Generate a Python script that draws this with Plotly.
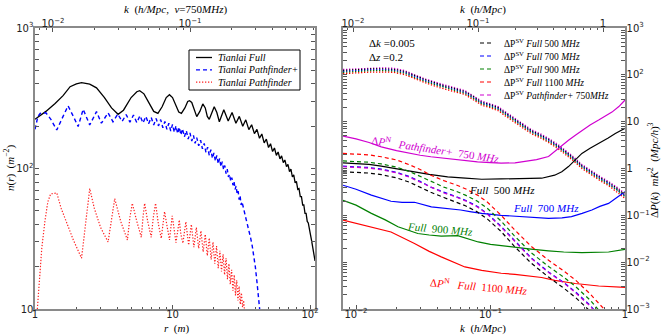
import plotly.graph_objects as go

# ---- left panel: baseline density n(r) ----
full_r = [1.0, 1.2, 1.4, 1.6, 1.8, 2.0, 2.18, 2.5, 2.8, 3.2, 3.6, 4.02, 4.4, 5.0, 5.5, 5.77, 6.2, 6.8, 7.3, 7.83,
          8.4, 9.0, 9.5, 10.0, 10.6, 11.1, 11.6, 12.3, 12.9, 13.3, 13.8, 14.4, 15.0, 15.8, 16.6, 17.3, 17.9, 18.5, 19.3, 20.1,
          21.0, 21.9, 23.6, 25.4, 27.1, 28.9, 30.6, 32.4, 34.1, 35.9, 37.6, 39.4, 41.1, 42.9, 44.6, 46.4, 48.1, 49.9, 51.6, 53.4,
          55.1, 56.9, 58.6, 60.4, 62.1, 63.9, 65.6, 67.4, 69.1, 70.9, 72.6, 74.4, 76.1, 77.9, 79.6, 81.4, 83.1, 84.9, 86.6, 88.4,
          90.1, 91.9, 93.6, 95.4, 97.1, 98.9, 100.6, 102.4, 104.0, 106.0, 108.7]
full_n = [224, 255, 290, 330, 382, 400, 408, 399, 375, 320, 270, 243, 260, 320, 352, 358, 340, 290, 255, 247,
          275, 320, 335, 320, 280, 252, 247, 270, 300, 304, 295, 260, 234, 255, 288, 270, 235, 224, 250, 275,
          250, 215, 262, 218, 250, 210, 235, 200, 222, 189, 205, 177, 190, 164, 176, 152, 162, 141, 150, 132,
          140, 124, 131, 117, 123, 110, 115, 103, 107, 95, 99, 87, 90, 79, 81, 71, 72, 63, 63, 55,
          55, 48, 48, 42, 41, 36, 34, 31, 28, 25, 22]

pfp_r = [1.0, 1.05, 1.09, 1.2, 1.3, 1.44, 1.6, 1.74, 1.9, 2.06, 2.24, 2.5, 2.8, 3.04, 3.4, 3.69, 4.0, 4.3, 4.6, 4.9,
         5.2, 5.5, 5.8, 6.1, 6.4, 6.7, 7.0, 7.3, 7.6, 7.9, 8.2, 8.5, 8.8, 9.1, 9.4, 9.7, 10.0, 10.3, 10.6, 10.9,
         11.2, 11.5, 11.8, 12.2, 12.6, 13.0, 13.4, 13.8, 14.2, 14.6, 15.0, 15.5, 16.0, 16.5, 17.0, 17.5, 18.0, 18.5, 19.0, 19.5,
         20.0, 20.5, 21.0, 21.5, 22.0, 22.5, 23.0, 23.5, 24.0, 24.5, 25.0, 25.5, 26.0, 26.5, 27.0, 27.5, 28.0, 28.5, 29.0, 29.5,
         30.0, 30.5, 31.0, 31.5, 32.0, 33.0, 34.0, 35.0, 36.0, 37.0, 38.0, 39.0, 40.0, 41.0, 42.0, 43.0]
pfp_n = [190, 235, 247, 249, 225, 188, 235, 279, 235, 199, 264, 204, 254, 210, 249, 215, 244, 216, 242, 214,
         240, 212, 238, 211, 235, 208, 231, 204, 227, 201, 223, 195, 216, 190, 210, 185, 206, 181, 201, 177,
         197, 173, 192, 168, 186, 162, 179, 157, 172, 151, 166, 145, 159, 138, 151, 130, 142, 124, 136, 118,
         129, 113, 124, 108, 118, 103, 112, 98, 105, 92, 99, 87, 91, 81, 86, 76, 81, 71, 75, 66,
         69, 60, 64, 55, 58, 50, 45, 40, 36, 32, 28, 24, 20, 16, 13, 10]

pf_r = [1.04, 1.08, 1.12, 1.18, 1.24, 1.3, 1.44, 1.55, 1.7, 1.9, 2.18, 2.35, 2.5, 2.7, 3.0, 3.4, 3.6, 3.8, 4.2, 4.7,
        4.9, 5.1, 5.5, 5.93, 6.1, 6.27, 6.6, 7.0, 7.25, 7.53, 7.9, 8.28, 8.75, 9.1, 9.5, 9.95, 10.3, 10.6, 11.2, 11.5,
        11.9, 12.5, 13.1, 13.7, 14.3, 14.9, 15.5, 16.1, 16.7, 17.3, 17.9, 18.5, 19.1, 19.7, 20.3, 20.9, 21.5, 22.1, 22.7, 23.3,
        23.9, 24.5, 25.1, 25.7, 26.3, 26.9, 27.5, 28.1, 28.7, 29.3, 29.9, 30.5, 31.1, 31.7, 32.3, 32.9, 33.3]
pf_n = [10, 18, 27, 42, 58, 66, 67, 52, 41, 31, 23, 45, 72, 52, 38, 30, 45, 61, 42, 31,
        45, 56.5, 42, 32.4, 45, 56.5, 42, 32.4, 45, 56.5, 40, 31.8, 49.3, 38, 31, 46, 36, 29.7, 43, 34,
        29.4, 41.8, 28.5, 40, 27.5, 38, 27, 36, 25.5, 34, 24, 32, 22.5, 30, 21, 28, 19.5, 26, 18.5, 24.5,
        17.5, 23, 16.3, 21, 15, 19, 13.5, 17.5, 12.5, 16, 11.5, 14.5, 10.8, 13, 10.3, 11.5, 10]

# ---- right panel: sample variance (dotted, upper band) ----
k_sv = [0.008, 0.01, 0.0125, 0.0155, 0.019, 0.023, 0.027, 0.033, 0.043, 0.052, 0.0645, 0.075, 0.086, 0.1, 0.114,
        0.13, 0.152, 0.175, 0.202, 0.235, 0.27, 0.32, 0.4, 0.48, 0.567, 0.66, 0.755, 0.87, 1.0]
sv_mag = [130, 135, 140, 141, 138, 123, 101, 81, 64, 55, 46, 35, 27.5, 24, 21, 16, 11.9, 9.0, 6.7, 5.5, 4.4, 3.2, 1.93, 1.21, 0.87, 0.66, 0.53, 0.4, 0.29]
sv_500 = [124, 129, 133, 134, 131, 118, 97, 78, 61, 52, 44, 34, 26, 23, 20, 15.2, 11.3, 8.6, 6.4, 5.2, 4.2, 3.0, 1.84, 1.15, 0.83, 0.63, 0.5, 0.38, 0.27]
sv_700 = [118, 123, 127, 128, 125, 112, 92, 74, 58, 50, 42, 32, 25, 22, 19, 14.5, 10.8, 8.2, 6.1, 5.0, 4.0, 2.9, 1.75, 1.1, 0.79, 0.6, 0.48, 0.36, 0.26]
sv_900 = [113, 118, 122, 123, 120, 108, 88, 71, 56, 48, 40, 31, 24, 21, 18.2, 13.9, 10.4, 7.9, 5.9, 4.8, 3.8, 2.8, 1.68, 1.06, 0.76, 0.58, 0.46, 0.35, 0.25]
sv_1100 = [106, 111, 114, 115, 113, 101, 83, 67, 52, 45, 38, 29, 22.5, 19.8, 17.1, 13, 9.7, 7.4, 5.5, 4.5, 3.6, 2.6, 1.58, 0.99, 0.71, 0.54, 0.43, 0.32, 0.23]

# ---- right panel: sample variance (dashed, lower set) ----
k_d = [0.008, 0.01, 0.0125, 0.0154, 0.02, 0.025, 0.03, 0.036, 0.045, 0.055, 0.065, 0.08, 0.095, 0.12, 0.15,
       0.2, 0.27, 0.35, 0.43, 0.55, 0.67, 0.75]
d_500 = [0.85, 0.84, 0.8, 0.74, 0.63, 0.51, 0.4, 0.31, 0.24, 0.195, 0.16, 0.118, 0.083, 0.045, 0.022, 0.0096, 0.0048, 0.0028, 0.00175, 0.0009, 0.00047, 0.00034]
d_700 = [1.12, 1.1, 1.05, 0.97, 0.83, 0.67, 0.53, 0.4, 0.31, 0.255, 0.21, 0.155, 0.108, 0.058, 0.029, 0.0125, 0.0062, 0.0037, 0.0023, 0.0012, 0.00062, 0.00045]
d_900 = [1.45, 1.42, 1.36, 1.25, 1.07, 0.86, 0.68, 0.52, 0.4, 0.33, 0.27, 0.2, 0.14, 0.075, 0.037, 0.016, 0.0081, 0.0048, 0.003, 0.00155, 0.0008, 0.0006]
d_1100 = [2.1, 2.05, 1.95, 1.78, 1.52, 1.2, 0.95, 0.72, 0.55, 0.45, 0.37, 0.27, 0.19, 0.1, 0.05, 0.022, 0.011, 0.0065, 0.0041, 0.0021, 0.0011, 0.0008]
d_pfp = [1.09, 1.07, 1.02, 0.94, 0.81, 0.65, 0.51, 0.39, 0.3, 0.248, 0.204, 0.15, 0.105, 0.056, 0.028, 0.0121, 0.006, 0.0036, 0.0022, 0.00116, 0.0006, 0.00044]

# ---- right panel: noise (solid) ----
n_pfp_k = [0.008, 0.01, 0.0125, 0.0154, 0.02, 0.025, 0.03, 0.036, 0.05, 0.065, 0.08, 0.1, 0.12, 0.152, 0.18, 0.22,
           0.27, 0.3, 0.34, 0.38, 0.43, 0.48, 0.55, 0.637, 0.72, 0.8, 0.9, 1.0]
n_pfp = [4.9, 4.3, 3.6, 2.9, 2.4, 2.1, 1.92, 1.78, 1.6, 1.45, 1.38, 1.33, 1.3, 1.32, 1.4, 1.55, 1.8, 2.3, 3.2, 4.0,
         5.2, 6.6, 8.5, 10.8, 13.5, 16, 21, 29]
n_500_k = [0.008, 0.01, 0.0125, 0.0154, 0.02, 0.0272, 0.035, 0.048, 0.065, 0.086, 0.12, 0.152, 0.2, 0.24, 0.3,
           0.339, 0.38, 0.426, 0.478, 0.55, 0.637, 0.75, 0.847, 1.0]
n_500 = [1.32, 1.28, 1.22, 1.12, 1.0, 0.85, 0.75, 0.665, 0.62, 0.59, 0.6, 0.6, 0.6, 0.62, 0.72, 0.85, 1.1, 1.5,
         2.1, 2.7, 3.4, 4.5, 5.6, 7.2]
n_700_k = [0.008, 0.01, 0.013, 0.0182, 0.022, 0.0272, 0.0363, 0.048, 0.06, 0.072, 0.086, 0.12, 0.152, 0.2, 0.27,
           0.34, 0.4, 0.48, 0.567, 0.65, 0.755, 0.87, 1.0]
n_700 = [0.44, 0.36, 0.27, 0.2, 0.19, 0.19, 0.152, 0.14, 0.13, 0.119, 0.11, 0.1, 0.096, 0.09, 0.086, 0.088, 0.094,
         0.11, 0.13, 0.155, 0.18, 0.24, 0.32]
n_900_k = [0.008, 0.01, 0.013, 0.0165, 0.0205, 0.025, 0.0288, 0.035, 0.043, 0.057, 0.07, 0.081, 0.1, 0.152, 0.2,
           0.27, 0.35, 0.478, 0.6, 0.755, 1.0]
n_900 = [0.21, 0.165, 0.11, 0.08, 0.057, 0.046, 0.041, 0.038, 0.036, 0.037, 0.031, 0.027, 0.024, 0.0206, 0.019,
         0.0175, 0.0165, 0.016, 0.0162, 0.0165, 0.0187]
n_1100_k = [0.008, 0.0115, 0.0182, 0.0272, 0.035, 0.043, 0.0645, 0.086, 0.12, 0.152, 0.2, 0.24, 0.3, 0.426, 0.637, 1.0]
n_1100 = [0.079, 0.062, 0.044, 0.025, 0.017, 0.013, 0.0079, 0.0067, 0.0058, 0.0055, 0.0049, 0.0047, 0.0041, 0.0035,
          0.0031, 0.0029]

MAG = '#d000d0'
serif = 'Liberation Serif'
W, H = 662, 336
DASH = '4px,3px'
DOT = '1.3px,1.7px'

fig = go.Figure()

# left panel
fig.add_scatter(x=full_r, y=full_n, mode='lines', line=dict(color='black', width=1.3), xaxis='x', yaxis='y')
fig.add_scatter(x=pfp_r, y=pfp_n, mode='lines', line=dict(color='blue', width=1.4, dash=DASH), xaxis='x', yaxis='y')
fig.add_scatter(x=pf_r, y=pf_n, mode='lines', line=dict(color='#ff2020', width=1.2, dash=DOT), xaxis='x', yaxis='y')
# empty traces so the top k axes get drawn
fig.add_scatter(x=[], y=[], xaxis='x2', yaxis='y')
fig.add_scatter(x=[], y=[], xaxis='x4', yaxis='y3')

# right panel, dotted band
for vals, col in [(sv_mag, MAG), (sv_500, 'black'), (sv_700, 'blue'), (sv_900, 'green'), (sv_1100, 'red')]:
    fig.add_scatter(x=k_sv, y=vals, mode='lines', line=dict(color=col, width=1.3, dash=DOT), xaxis='x3', yaxis='y3')

# right panel, solid noise curves
for kk, vals, col in [(n_pfp_k, n_pfp, MAG), (n_500_k, n_500, 'black'), (n_700_k, n_700, 'blue'),
                      (n_900_k, n_900, 'green'), (n_1100_k, n_1100, 'red')]:
    fig.add_scatter(x=kk, y=vals, mode='lines', line=dict(color=col, width=1.2), xaxis='x3', yaxis='y3')

# right panel, dashed
for vals, col in [(d_500, 'black'), (d_700, 'blue'), (d_900, 'green'), (d_1100, 'red'), (d_pfp, MAG)]:
    fig.add_scatter(x=k_d, y=vals, mode='lines', line=dict(color=col, width=1.2, dash=DASH), xaxis='x3', yaxis='y3')

tickfont = dict(family='DejaVu Sans', size=8, color='#222')
common = dict(type='log', showline=True, linecolor='#8a8a8a', linewidth=2, ticks='inside', ticklen=4,
              tickcolor='#555', tickwidth=1, dtick=1, exponentformat='power', showexponent='all',
              showgrid=False, zeroline=False, tickfont=tickfont, automargin=False, ticklabelstandoff=-2,
              minor=dict(ticks='inside', ticklen=2, dtick='D1', tickcolor='#555', showgrid=False))

xl = [35 / W, 315 / W]
xr = [343 / W, 625 / W]
yd = [1 - 309 / H, 1 - 28 / H]

fig.update_layout(
    width=W, height=H, margin=dict(l=0, r=0, t=0, b=0, autoexpand=False), showlegend=False,
    plot_bgcolor='white', paper_bgcolor='white',
    xaxis=dict(common, domain=xl, anchor='y', range=[0, 2.036], ticklabelstandoff=-5),
    xaxis2=dict(common, overlaying='x', side='top', anchor='y', range=[-2.131, -0.088], ticklabelstandoff=-5),
    yaxis=dict(common, domain=yd, anchor='x', range=[1, 3], mirror='allticks'),
    xaxis3=dict(common, domain=xr, anchor='y3', range=[-2.097, 0], ticklabelstandoff=-5),
    xaxis4=dict(common, overlaying='x3', side='top', anchor='y3', range=[-2.08, 0.176], ticklabelstandoff=-5),
    yaxis3=dict(common, domain=yd, anchor='x3', side='right', range=[-3, 3], mirror='allticks'),
)


def note(txt, px_, py_, col='black', size=11, ang=0, anc='center'):
    fig.add_annotation(text=txt, x=px_ / W, y=1 - py_ / H, xref='paper', yref='paper', showarrow=False,
                       textangle=ang, xanchor=anc, yanchor='middle',
                       font=dict(family=serif, size=size, color=col))


# axis titles
note('<i>r</i>  (<i>m</i>)', 176, 328.5)
note('<i>k</i>  (<i>h/Mpc</i>,  <i>ν</i>=750<i>MHz</i>)', 175, 9)
note('<i>n</i>(<i>r</i>)  (<i>m</i><sup>−2</sup>)', 9, 168, ang=-90)
note('<i>k</i>  (<i>h/Mpc</i>)', 483, 328.5)
note('<i>k</i>  (<i>h/Mpc</i>)', 483, 9)
note('Δ<i>P</i>(<i>k</i>)  <i>mK</i><sup>2</sup>  (<i>Mpc/h</i>)<sup>3</sup>', 653, 170, ang=-90)

# left legend (box, samples, labels)
fig.add_shape(type='rect', xref='paper', yref='paper', x0=189 / W, x1=300 / W, y0=1 - 90 / H, y1=1 - 50 / H,
              line=dict(color='black', width=1), fillcolor='white', layer='above')
for i, (lbl, col, dash) in enumerate([('Tianlai Full', 'black', 'solid'),
                                      ('Tianlai Pathfinder+', 'blue', DASH),
                                      ('Tianlai Pathfinder', '#ff2020', DOT)]):
    yy = 1 - (57.5 + 12.3 * i) / H
    fig.add_shape(type='line', xref='paper', yref='paper', x0=196 / W, x1=212 / W, y0=yy, y1=yy,
                  line=dict(color=col, width=1.3, dash=dash), layer='above')
    note('<i>' + lbl + '</i>', 216, 57.5 + 12.3 * i, size=10, anc='left')

# right legend
right_leg = [('ΔP<sup>SV</sup> <i>Full</i> 500 <i>MHz</i>', 'black'),
             ('ΔP<sup>SV</sup> <i>Full</i> 700 <i>MHz</i>', 'blue'),
             ('ΔP<sup>SV</sup> <i>Full</i> 900 <i>MHz</i>', 'green'),
             ('ΔP<sup>SV</sup> <i>Full</i> 1100 <i>MHz</i>', 'red'),
             ('ΔP<sup>SV</sup> <i>Pathfinder+</i> 750<i>MHz</i>', MAG)]
for i, (lbl, col) in enumerate(right_leg):
    yy = 43 + 13 * i
    fig.add_shape(type='line', xref='paper', yref='paper', x0=480 / W, x1=494 / W, y0=1 - yy / H, y1=1 - yy / H,
                  line=dict(color=col, width=1.2, dash=DASH), layer='above')
    note(lbl, 502, yy, size=9.5, anc='left')

# right panel annotations
note('Δ<i>k</i> =0.005', 367, 43, anc='left')
note('Δ<i>z</i> =0.2', 367, 57, anc='left')
note('Δ<i>P</i><sup>N</sup>   <i>Pathfinder+</i>  750 <i>MHz</i>', 436, 149, col=MAG, ang=8.5)
note('<i>Full</i>  500 <i>MHz</i>', 502, 190)
note('<i>Full</i>  700 <i>MHz</i>', 546, 208, col='blue')
note('<i>Full</i>  900 <i>MHz</i>', 440, 229, col='green', ang=5)
note('Δ<i>P</i><sup>N</sup>   <i>Full</i>  1100 <i>MHz</i>', 479, 286, col='red', ang=5)

# the default page adds an 8px body margin; remove it so the figure fills the window
fig.write_html("out.html", config={'displayModeBar': False},
               post_script="document.body.style.margin='0';")
